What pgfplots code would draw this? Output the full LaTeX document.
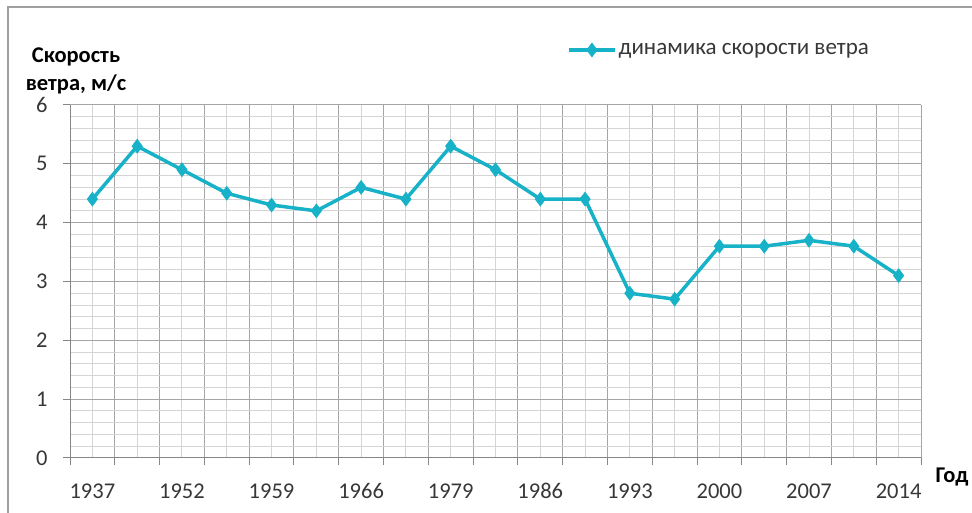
\documentclass[border=0pt]{standalone}
\usepackage{pgfplots}
\pgfplotsset{compat=1.18}
\usepackage{fontspec}
\setmainfont{Carlito}
\definecolor{ser}{RGB}{23,178,200}
\definecolor{majg}{RGB}{165,165,165}
\definecolor{ming}{RGB}{212,212,212}
\definecolor{axg}{RGB}{135,135,135}
\definecolor{txt}{RGB}{55,55,55}
\begin{document}
\begin{tikzpicture}[x=1pt,y=1pt]
\useasboundingbox (0,0) rectangle (972,513);
\draw[gray!75, line width=2pt] (8,0) -- (8,506) -- (972,506);
\begin{axis}[
  at={(70pt,55pt)}, anchor=south west,
  width=851pt, height=353pt, scale only axis,
  xmin=-0.5, xmax=18.5, ymin=0, ymax=6,
  axis x line*=bottom, axis y line*=left,
  axis line style={axg, line width=1pt},
  xtick={-0.5,0.5,...,18.5},
  xticklabels={},
  minor xtick={0,...,18},
  extra x ticks={0,2,...,18},
  extra x tick labels={1937,1952,1959,1966,1979,1986,1993,2000,2007,2014},
  extra x tick style={grid=none, major tick length=0pt},
  ytick={0,...,6},
  minor y tick num=4,
  grid=both,
  major grid style={majg, line width=1pt},
  minor grid style={ming, line width=1pt},
  tick align=outside,
  major tick length=7pt,
  minor tick length=0pt,
  tick style={axg, line width=1pt},
  /pgf/number format/assume math mode=true,
  tick label style={font=\fontsize{22.5}{26}\selectfont, text=txt},
  yticklabel style={xshift=-12pt},
  xticklabel style={anchor=north, text height=15pt, text depth=0pt, yshift=-22pt},
  legend style={at={(0.584,1.156)}, anchor=west, draw=none, fill=none,
    font=\fontsize{23}{26}\selectfont, text=txt, inner sep=0pt},
  legend image code/.code={\draw[#1, mark repeat=2, mark phase=2] plot coordinates {(0pt,0pt) (23pt,0pt) (46pt,0pt)};},
  clip=false,
]
\addplot[ser, line width=3.5pt, mark=diamond*, mark size=7pt, mark options={fill=ser, line width=0.5pt}]
  coordinates {(0,4.4) (1,5.3) (2,4.9) (3,4.5) (4,4.3) (5,4.2) (6,4.6) (7,4.4) (8,5.3) (9,4.9)
   (10,4.4) (11,4.4) (12,2.8) (13,2.7) (14,3.6) (15,3.6) (16,3.7) (17,3.6) (18,3.1)};
\addlegendentry{динамика скорости ветра}
\end{axis}
\node[font=\bfseries\fontsize{22.5}{28}\selectfont, align=center] at (76,442) {Скорость\\ветра, м/с};
\node[font=\bfseries\fontsize{22.5}{26}\selectfont] at (952,36) {Год};
\end{tikzpicture}
\end{document}
